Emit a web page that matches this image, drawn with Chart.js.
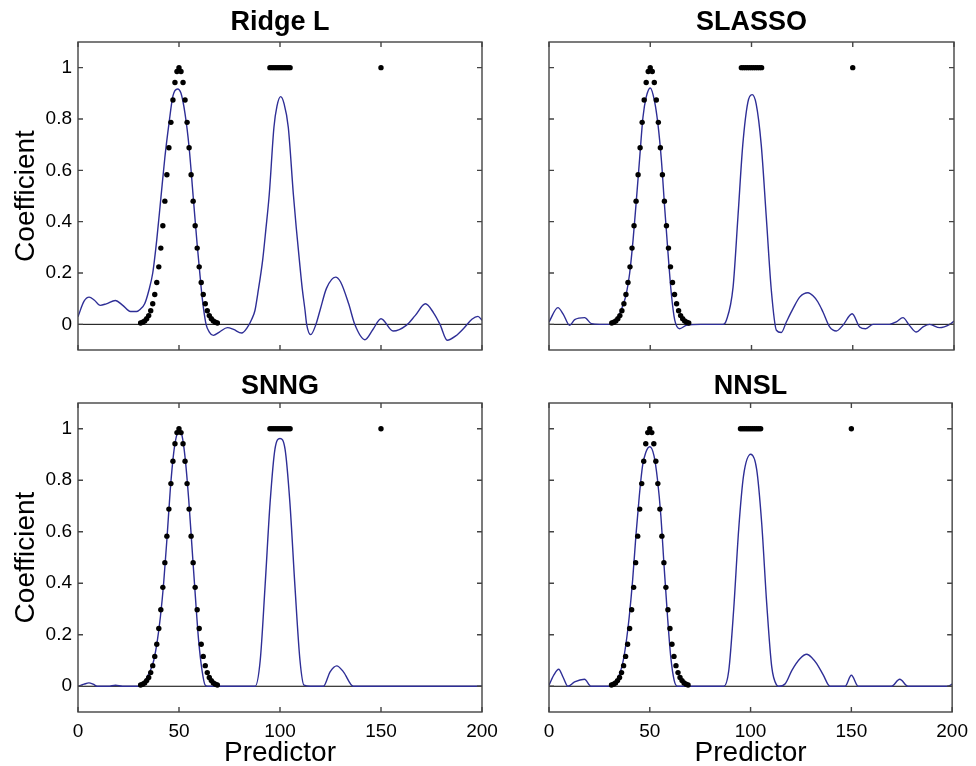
<!DOCTYPE html>
<html><head><meta charset="utf-8">
<script src="https://cdn.jsdelivr.net/npm/chart.js@4"></script>
<style>
html,body{margin:0;padding:0;background:#fff;}
#wrap{position:relative;width:976px;height:766px;overflow:hidden;}
canvas{position:absolute;left:0;top:0;}
</style></head><body>
<div id="wrap">
<canvas id="c0" width="976" height="766"></canvas>
<canvas id="c1" width="976" height="766"></canvas>
<canvas id="c2" width="976" height="766"></canvas>
<canvas id="c3" width="976" height="766"></canvas>
</div>
<script>
// true coefficients (black dots)
const trueX = [31,32,33,34,35,36,37,38,39,40,41,42,43,44,45,46,47,48,49,50,51,52,53,54,55,56,57,58,59,60,61,62,63,64,65,66,67,68,69,
  95,96,97,98,99,100,101,102,103,104,105,150];
const trueY = [0.005,0.008,0.013,0.022,0.034,0.053,0.080,0.116,0.163,0.224,0.297,0.384,0.480,0.583,0.688,0.787,0.874,0.942,0.985,1,
  0.985,0.942,0.874,0.787,0.688,0.583,0.480,0.384,0.297,0.224,0.163,0.116,0.080,0.053,0.034,0.022,0.013,0.008,0.005,
  1,1,1,1,1,1,1,1,1,1,1,1];

// estimated coefficients (blue lines)
const ridgeX = [0,3,5.5,8,11,14,18.5,22,26,29,31,33,35,37,39,41,43,45,47,49.3,51,53,55,57,59,61,62,63.4,65,67,70,74,77,81,84,86,87.6,89,91.4,93,94.7,97,98.5,100.3,102,104.1,106.6,108,109.6,111,112.4,113.2,115.2,117.8,120,123,127.5,130,134,137,142,146,150,156,162.5,167,172,176,179.2,182.8,187,191,195,198,200];
const ridgeY = [0.03,0.09,0.106,0.095,0.074,0.08,0.093,0.075,0.05,0.05,0.06,0.08,0.13,0.2,0.33,0.49,0.65,0.78,0.89,0.917,0.9,0.82,0.69,0.5,0.31,0.14,0.07,0.0,-0.03,-0.043,-0.03,-0.013,-0.02,-0.034,-0.01,0.02,0.054,0.12,0.249,0.37,0.508,0.768,0.85,0.887,0.86,0.768,0.508,0.38,0.249,0.14,0.054,0,-0.04,0,0.06,0.14,0.184,0.165,0.08,0,-0.06,-0.02,0.022,-0.026,-0.004,0.035,0.08,0.045,0,-0.062,-0.045,-0.015,0.02,0.031,0.016];

const slassoX = [0,4.4,7,10.2,12.7,17.6,20.9,25,30,33.3,36.5,38.2,39.8,41.5,43.1,44.8,46.4,48,50,52.1,53.8,55.5,57.1,58.8,60.4,62.1,64.5,67.8,75,85.9,87.6,90.9,93.3,95.7,98.2,100.3,102.3,104.8,107.3,109.8,112.3,114.7,117.2,120.5,123.8,127.9,130.5,132.8,135.3,138.6,141.9,145.1,149.7,153.4,156.4,160,168.2,171.5,174.8,178,181.4,184.7,188,192.9,197.9,200];
const slassoY = [0.009,0.065,0.04,-0.004,0.018,0.026,0.003,0,0,0.016,0.074,0.12,0.197,0.327,0.48,0.65,0.807,0.885,0.921,0.87,0.78,0.64,0.457,0.275,0.12,0.016,-0.017,-0.004,0,0,0.016,0.145,0.418,0.70,0.865,0.895,0.859,0.70,0.418,0.132,-0.023,-0.032,0.009,0.061,0.106,0.123,0.11,0.087,0.048,-0.01,-0.026,-0.004,0.041,-0.01,-0.017,0,0,0.01,0.026,-0.004,-0.03,-0.01,0,-0.013,0,0.013];

const snngX = [0,3,5.4,7.5,9.5,15,18.6,22,30,32,34.2,36,37.5,39.2,40.8,42.4,44.1,45.7,47.4,49,50.2,51.5,53.1,54.8,56.4,58.1,59.7,61.4,63,64.7,75,87.7,90.2,92.6,95.1,97.5,100,102.5,104.9,107.4,109.9,111.9,115,121.5,124.8,128.1,131.4,136.3,150,180,200];
const snngY = [0,0.008,0.013,0.008,0,0,0.004,0,0,0.008,0.036,0.065,0.1,0.173,0.27,0.4,0.58,0.765,0.908,0.979,0.992,0.973,0.882,0.726,0.544,0.349,0.179,0.062,0.004,0,0,0,0.1,0.388,0.713,0.921,0.962,0.921,0.713,0.388,0.1,0.004,0,0,0.056,0.079,0.056,0,0,0,0];

const nnslX = [0,2.5,4.8,7,9.4,12.7,17.6,20.9,30,33.2,36.5,38.2,39.8,41.5,43.1,44.8,46.4,48,50,52.1,53.8,55.5,57.1,58.8,60.4,62.1,63.7,75,86.7,89.2,91.6,94.1,96.5,100.1,103,105.5,108,110.5,113,113.9,117.2,120.5,124.6,127.9,130.5,132.8,136.1,139.4,146.9,150,153.4,169.9,174,178.1,197.8,200];
const nnslY = [0.004,0.045,0.066,0.035,0,0.017,0.027,0,0,0.017,0.088,0.166,0.27,0.413,0.583,0.739,0.856,0.908,0.93,0.895,0.804,0.661,0.466,0.27,0.114,0.023,0,0,0,0.062,0.296,0.609,0.817,0.901,0.843,0.635,0.322,0.075,0.004,0,0.01,0.062,0.108,0.124,0.11,0.088,0.043,0,0,0.043,0,0,0.027,0,0,0.008];

const titles = ['Ridge L','SLASSO','SNNG','NNSL'];
const xTicks = [0,50,100,150,200];
const yTicks = [0,0.2,0.4,0.6,0.8,1];
const xTitle = 'Predictor';
const yTitle = 'Coefficient';

const F = "'Liberation Sans', Arial, Helvetica, sans-serif";

const framePlugin = {
  id: 'frame',
  afterDraw(chart) {
    const {ctx, chartArea: {left, top, right, bottom}, scales: {x, y}} = chart;
    ctx.save();
    ctx.strokeStyle = '#444444';
    ctx.lineWidth = 1.4;
    ctx.strokeRect(left, top, right - left, bottom - top);
    const tl = 5;
    ctx.beginPath();
    xTicks.forEach(v => {
      const px = x.getPixelForValue(v);
      ctx.moveTo(px, bottom); ctx.lineTo(px, bottom - tl);
      ctx.moveTo(px, top); ctx.lineTo(px, top + tl);
    });
    yTicks.forEach(v => {
      const py = y.getPixelForValue(v);
      ctx.moveTo(left, py); ctx.lineTo(left + tl, py);
      ctx.moveTo(right, py); ctx.lineTo(right - tl, py);
    });
    ctx.stroke();
    ctx.restore();
  }
};

const panels = [
  {id:'c0', xs:ridgeX,  ys:ridgeY,  L:78,  T:42,  R:482, B:350, left:true,  bottom:false},
  {id:'c1', xs:slassoX, ys:slassoY, L:549, T:42,  R:954, B:350, left:false, bottom:false},
  {id:'c2', xs:snngX,   ys:snngY,   L:78,  T:403, R:482, B:712, left:true,  bottom:true},
  {id:'c3', xs:nnslX,   ys:nnslY,   L:549, T:403, R:954, B:712, left:false, bottom:true}
];

panels.forEach((p, i) => {
  const yW = p.left ? 78 : 10;
  const xH = p.bottom ? 54 : 20;
  const regionTop = p.bottom ? 370 : 0;
  const titlePad = p.bottom ? {top:0, bottom:0.6} : {top:6, bottom:3.6};
  new Chart(document.getElementById(p.id), {
    type: 'scatter',
    data: {
      datasets: [
        {label:'true', data: trueX.map((x, k) => ({x, y: trueY[k]})), showLine:false,
         pointRadius:2.7, pointBackgroundColor:'#000', pointBorderWidth:0, order:0},
        {label:'estimate', data: p.xs.map((x, k) => ({x, y: p.ys[k]})), showLine:true,
         borderColor:'#2e2e96', borderWidth:1.4, pointRadius:0, cubicInterpolationMode:'monotone', fill:false, order:1},
        {label:'zero', data:[{x:0,y:0},{x:200,y:0}], showLine:true, borderColor:'#000', borderWidth:1, pointRadius:0, order:2}
      ]
    },
    options: {
      responsive:false, animation:false, events:[],
      layout: {padding: {left: p.L - yW, top: regionTop, right: 976 - p.R, bottom: 766 - p.B - xH}},
      plugins: {
        legend: {display:false},
        tooltip: {enabled:false},
        title: {display:true, text:titles[i], fullSize:false, color:'#000',
                font:{family:F, size:27, weight:'bold', lineHeight:1.2}, padding:titlePad}
      },
      scales: {
        x: {
          type:'linear', min:0, max:200,
          grid:{display:false, drawTicks:false}, border:{display:false},
          ticks:{display:p.bottom, font:{family:F, size:19}, color:'#000', padding:8, maxRotation:0, autoSkip:false},
          afterBuildTicks: s => { s.ticks = xTicks.map(v => ({value:v})); },
          afterFit: s => { s.height = xH; },
          title:{display:p.bottom, text:xTitle, color:'#000', font:{family:F, size:28, lineHeight:0.9}, padding:0}
        },
        y: {
          type:'linear', min:-0.1, max:1.1,
          grid:{display:false, drawTicks:false}, border:{display:false},
          ticks:{display:p.left, font:{family:F, size:19}, color:'#000', padding:6,
                 callback: v => String(Math.round(v * 10) / 10)},
          afterBuildTicks: s => { s.ticks = yTicks.map(v => ({value:v})); },
          afterFit: s => { s.width = yW; },
          title:{display:p.left, text:yTitle, color:'#000', font:{family:F, size:28}, padding:{top:9, bottom:0}}
        }
      }
    },
    plugins:[framePlugin]
  });
});
</script>
</body></html>
